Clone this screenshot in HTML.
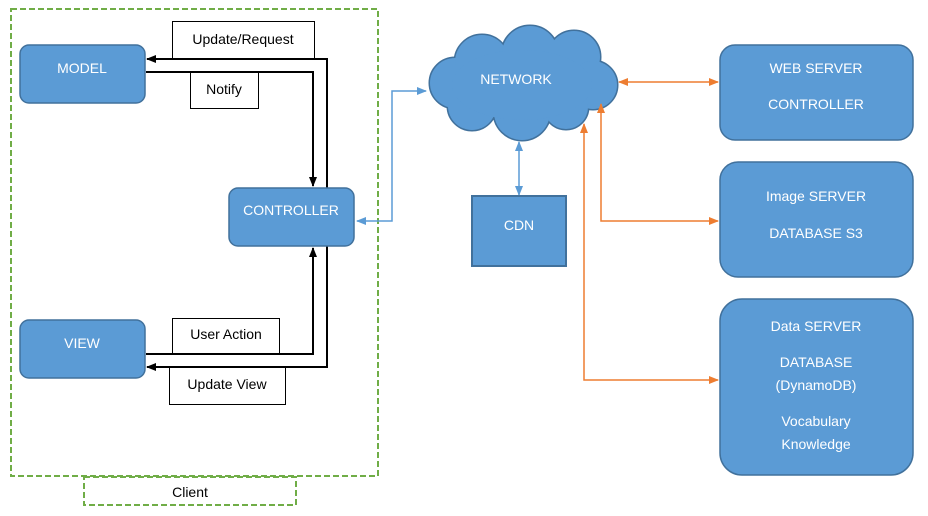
<!DOCTYPE html>
<html><head><meta charset="utf-8"><style>
html,body{margin:0;padding:0;background:#fff;}
svg{display:block;font-family:"Liberation Sans",sans-serif;}
</style></head><body>
<svg width="928" height="516" viewBox="0 0 928 516" xmlns="http://www.w3.org/2000/svg">
<defs>
<marker id="ab" markerWidth="10" markerHeight="10" refX="9" refY="5" orient="auto-start-reverse" markerUnits="userSpaceOnUse"><path d="M0,1 L10,5 L0,9 Z" fill="#000"/></marker>
<marker id="abl" markerWidth="10" markerHeight="10" refX="9" refY="5" orient="auto-start-reverse" markerUnits="userSpaceOnUse"><path d="M0,1 L10,5 L0,9 Z" fill="#5b9bd5"/></marker>
<marker id="ao" markerWidth="10" markerHeight="10" refX="9" refY="5" orient="auto-start-reverse" markerUnits="userSpaceOnUse"><path d="M0,1 L10,5 L0,9 Z" fill="#ed7d31"/></marker>
</defs>
<!-- client dashed -->
<rect x="11" y="9" width="367" height="467" fill="none" stroke="#70ad47" stroke-width="2" stroke-dasharray="6,3"/>
<rect x="84" y="477" width="212" height="28" fill="none" stroke="#70ad47" stroke-width="2" stroke-dasharray="6,3"/>
<text x="190" y="497" font-size="14" text-anchor="middle" fill="#000">Client</text>

<!-- label boxes -->
<rect x="172.5" y="21.5" width="142" height="38" fill="#fff" stroke="#000"/>
<text x="243" y="44" font-size="14" text-anchor="middle">Update/Request</text>
<rect x="190.5" y="72.5" width="68" height="36" fill="#fff" stroke="#000"/>
<text x="224" y="94" font-size="14" text-anchor="middle">Notify</text>
<rect x="172.5" y="318.5" width="107" height="35" fill="#fff" stroke="#000"/>
<text x="226" y="339" font-size="14" text-anchor="middle">User Action</text>
<rect x="169.5" y="367.5" width="116" height="37" fill="#fff" stroke="#000"/>
<text x="227" y="389" font-size="14" text-anchor="middle">Update View</text>

<!-- black connectors -->
<polyline points="327,188 327,59 147,59" fill="none" stroke="#000" stroke-width="2" marker-end="url(#ab)"/>
<polyline points="146,72 313,72 313,186" fill="none" stroke="#000" stroke-width="2" marker-end="url(#ab)"/>
<polyline points="146,354 313,354 313,248" fill="none" stroke="#000" stroke-width="2" marker-end="url(#ab)"/>
<polyline points="327,246 327,367 147,367" fill="none" stroke="#000" stroke-width="2" marker-end="url(#ab)"/>

<!-- nodes -->
<rect x="20" y="45" width="125" height="58" rx="9" fill="#5b9bd5" stroke="#41719c" stroke-width="1.5"/>
<text x="82" y="73" font-size="14" fill="#fff" text-anchor="middle">MODEL</text>
<rect x="20" y="320" width="125" height="58" rx="9" fill="#5b9bd5" stroke="#41719c" stroke-width="1.5"/>
<text x="82" y="348" font-size="14" fill="#fff" text-anchor="middle">VIEW</text>
<rect x="229" y="188" width="125" height="58" rx="9" fill="#5b9bd5" stroke="#41719c" stroke-width="1.5"/>
<text x="291" y="215" font-size="14" fill="#fff" text-anchor="middle">CONTROLLER</text>

<!-- blue connectors -->
<polyline points="357,221 392,221 392,91 426,91" fill="none" stroke="#5b9bd5" stroke-width="1.5" marker-start="url(#abl)" marker-end="url(#abl)"/>
<line x1="519" y1="142" x2="519" y2="195" stroke="#5b9bd5" stroke-width="1.5" marker-start="url(#abl)" marker-end="url(#abl)"/>

<!-- cloud -->
<g stroke="#41719c" stroke-width="3" fill="#41719c">
<circle cx="455" cy="83" r="25"/><circle cx="482" cy="62" r="27"/><circle cx="530" cy="54" r="28"/><circle cx="574" cy="57" r="26"/><circle cx="593" cy="85" r="24"/><circle cx="566" cy="107" r="22"/><circle cx="522" cy="112" r="28"/><circle cx="472" cy="106" r="24"/>
</g>
<g fill="#5b9bd5">
<circle cx="455" cy="83" r="25"/><circle cx="482" cy="62" r="27"/><circle cx="530" cy="54" r="28"/><circle cx="574" cy="57" r="26"/><circle cx="593" cy="85" r="24"/><circle cx="566" cy="107" r="22"/><circle cx="522" cy="112" r="28"/><circle cx="472" cy="106" r="24"/>
<ellipse cx="522" cy="85" rx="70" ry="35"/>
</g>
<text x="516" y="84" font-size="14" fill="#fff" text-anchor="middle">NETWORK</text>

<!-- CDN -->
<rect x="472" y="196" width="94" height="70" fill="#5b9bd5" stroke="#41719c" stroke-width="2"/>
<text x="519" y="230" font-size="14" fill="#fff" text-anchor="middle">CDN</text>

<!-- orange connectors -->
<line x1="619" y1="82" x2="718" y2="82" stroke="#ed7d31" stroke-width="1.5" marker-start="url(#ao)" marker-end="url(#ao)"/>
<polyline points="601,104 601,221 718,221" fill="none" stroke="#ed7d31" stroke-width="1.5" marker-start="url(#ao)" marker-end="url(#ao)"/>
<polyline points="584,124 584,380 718,380" fill="none" stroke="#ed7d31" stroke-width="1.5" marker-start="url(#ao)" marker-end="url(#ao)"/>

<!-- servers -->
<rect x="720" y="45" width="193" height="95" rx="15" fill="#5b9bd5" stroke="#41719c" stroke-width="1.5"/>
<text x="816" y="73" font-size="14" fill="#fff" text-anchor="middle">WEB SERVER</text>
<text x="816" y="109" font-size="14" fill="#fff" text-anchor="middle">CONTROLLER</text>
<rect x="720" y="162" width="193" height="115" rx="18" fill="#5b9bd5" stroke="#41719c" stroke-width="1.5"/>
<text x="816" y="201" font-size="14" fill="#fff" text-anchor="middle">Image SERVER</text>
<text x="816" y="238" font-size="14" fill="#fff" text-anchor="middle">DATABASE S3</text>
<rect x="720" y="299" width="193" height="176" rx="22" fill="#5b9bd5" stroke="#41719c" stroke-width="1.5"/>
<text x="816" y="331" font-size="14" fill="#fff" text-anchor="middle">Data SERVER</text>
<text x="816" y="367" font-size="14" fill="#fff" text-anchor="middle">DATABASE</text>
<text x="816" y="390" font-size="14" fill="#fff" text-anchor="middle">(DynamoDB)</text>
<text x="816" y="426" font-size="14" fill="#fff" text-anchor="middle">Vocabulary</text>
<text x="816" y="449" font-size="14" fill="#fff" text-anchor="middle">Knowledge</text>
</svg>
</body></html>
